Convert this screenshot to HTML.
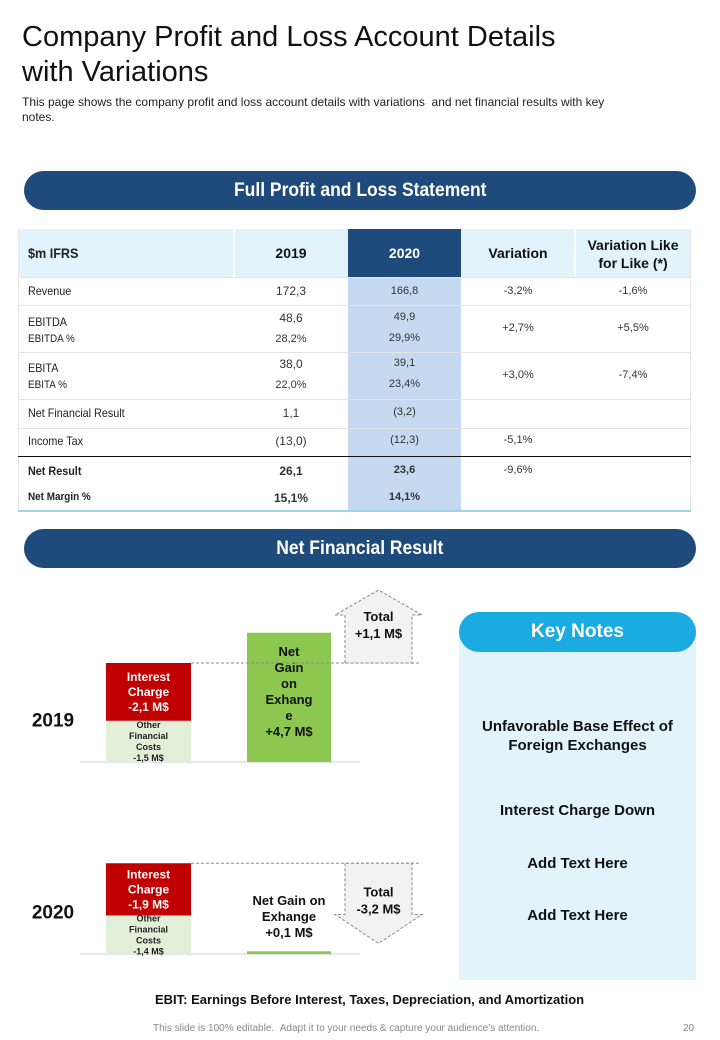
<!DOCTYPE html>
<html><head><meta charset="utf-8"><style>
body{margin:0;width:720px;height:1040px;background:#fff;font-family:"Liberation Sans",sans-serif;position:relative;overflow:hidden;color:#111}
.a{position:absolute}
.c{text-align:center}
.banner{position:absolute;left:24px;width:672px;height:39px;background:#1f4b7c;border-radius:20px;color:#fff;font-weight:bold;font-size:19px;text-align:center;line-height:39px}
.banner span{display:inline-block;transform:scaleX(.92)}
.t{position:absolute;font-size:12px;color:#222;transform:scaleX(.9);transform-origin:left center;white-space:nowrap}
.v{position:absolute;font-size:11px;color:#333;text-align:center;white-space:nowrap}
.hl{position:absolute;left:18px;width:673px;height:1px;background:#e4e4e4}
.b{font-weight:bold}
</style></head><body>
<div class="a" style="left:22px;top:20px;font-size:29px;line-height:35px;color:#111">Company Profit and Loss Account Details<br>with Variations</div>
<div class="a" style="left:22px;top:95px;font-size:12px;line-height:15px;color:#222;width:615px">This page shows the company profit and loss account details with variations &nbsp;and net financial results with key notes.</div>

<div class="banner" style="top:171px"><span>Full Profit and Loss Statement</span></div>

<div>
<div class="a" style="left:18px;top:229px;width:673px;height:48px;background:#e3f3fb"></div>
<div class="a" style="left:348px;top:277px;width:113px;height:234px;background:#c5daf0"></div>
<div class="a" style="left:348px;top:229px;width:113px;height:48px;background:#1f4b7c"></div>
<div class="a" style="left:233px;top:229px;width:2px;height:48px;background:#fff"></div>
<div class="a" style="left:574px;top:229px;width:2px;height:48px;background:#fff"></div>
<div class="a" style="left:18px;top:229px;width:1px;height:282px;background:#e4e4e4"></div>
<div class="a" style="left:690px;top:229px;width:1px;height:282px;background:#e4e4e4"></div>
<div class="t b" style="left:28px;top:245px;font-size:14px">$m IFRS</div>
<div class="v b" style="left:234px;width:114px;top:245px;font-size:14px;color:#111">2019</div>
<div class="v b" style="left:348px;width:113px;top:245px;font-size:14px;color:#fff">2020</div>
<div class="v b" style="left:461px;width:114px;top:245px;font-size:14px;color:#111">Variation</div>
<div class="v b" style="left:575px;width:116px;top:236px;font-size:14px;line-height:18px;color:#111">Variation Like<br>for Like (*)</div>

<div class="hl" style="top:277px"></div>
<div class="hl" style="top:305px"></div>
<div class="hl" style="top:352px"></div>
<div class="hl" style="top:399px"></div>
<div class="hl" style="top:428px"></div>
<div class="a" style="left:18px;top:456px;width:673px;height:1px;background:#111"></div>
<div class="a" style="left:18px;top:510px;width:673px;height:2px;background:#9cd3ea"></div>

<div class="t" style="left:28px;top:284px">Revenue</div>
<div class="v" style="left:234px;width:114px;top:284px;font-size:12px">172,3</div>
<div class="v" style="left:348px;width:113px;top:285px">166,8</div>
<div class="v" style="left:461px;width:114px;top:285px">-3,2%</div>
<div class="v" style="left:575px;width:116px;top:285px">-1,6%</div>

<div class="t" style="left:28px;top:315px">EBITDA</div>
<div class="t" style="left:28px;top:333px;font-size:11px">EBITDA %</div>
<div class="v" style="left:234px;width:114px;top:311px;font-size:12px">48,6</div>
<div class="v" style="left:234px;width:114px;top:333px">28,2%</div>
<div class="v" style="left:348px;width:113px;top:311px">49,9</div>
<div class="v" style="left:348px;width:113px;top:332px">29,9%</div>
<div class="v" style="left:461px;width:114px;top:322px">+2,7%</div>
<div class="v" style="left:575px;width:116px;top:322px">+5,5%</div>

<div class="t" style="left:28px;top:361px">EBITA</div>
<div class="t" style="left:28px;top:379px;font-size:11px">EBITA %</div>
<div class="v" style="left:234px;width:114px;top:357px;font-size:12px">38,0</div>
<div class="v" style="left:234px;width:114px;top:379px">22,0%</div>
<div class="v" style="left:348px;width:113px;top:357px">39,1</div>
<div class="v" style="left:348px;width:113px;top:378px">23,4%</div>
<div class="v" style="left:461px;width:114px;top:369px">+3,0%</div>
<div class="v" style="left:575px;width:116px;top:369px">-7,4%</div>

<div class="t" style="left:28px;top:406px">Net Financial Result</div>
<div class="v" style="left:234px;width:114px;top:406px;font-size:12px">1,1</div>
<div class="v" style="left:348px;width:113px;top:406px">(3,2)</div>

<div class="t" style="left:28px;top:434px">Income Tax</div>
<div class="v" style="left:234px;width:114px;top:434px;font-size:12px">(13,0)</div>
<div class="v" style="left:348px;width:113px;top:434px">(12,3)</div>
<div class="v" style="left:461px;width:114px;top:434px">-5,1%</div>

<div class="t b" style="left:28px;top:464px">Net Result</div>
<div class="t b" style="left:28px;top:491px;font-size:11px">Net Margin %</div>
<div class="v b" style="left:234px;width:114px;top:464px;font-size:12px">26,1</div>
<div class="v b" style="left:234px;width:114px;top:491px;font-size:12px">15,1%</div>
<div class="v b" style="left:348px;width:113px;top:464px">23,6</div>
<div class="v b" style="left:348px;width:113px;top:491px">14,1%</div>
<div class="v" style="left:461px;width:114px;top:464px">-9,6%</div>
</div>

<div class="banner" style="top:529px"><span>Net Financial Result</span></div>

<svg class="a" style="left:0;top:580px" width="450" height="400" id="chart"></svg>

<div class="a" style="left:459px;top:625px;width:237px;height:355px;background:#e3f3fb"></div>
<div class="a c" style="left:459px;top:612px;width:237px;height:40px;border-radius:20px;background:#1aabe0;color:#fff;font-weight:bold;font-size:19px;line-height:40px">Key Notes</div>
<div class="a c b" style="left:459px;top:717px;width:237px;font-size:15px;line-height:19px">Unfavorable Base Effect of<br>Foreign Exchanges</div>
<div class="a c b" style="left:459px;top:802px;width:237px;font-size:15px">Interest Charge Down</div>
<div class="a c b" style="left:459px;top:855px;width:237px;font-size:15px">Add Text Here</div>
<div class="a c b" style="left:459px;top:907px;width:237px;font-size:15px">Add Text Here</div>

<div class="a b" style="left:155px;top:992px;font-size:13px">EBIT: Earnings Before Interest, Taxes, Depreciation, and Amortization</div>
<div class="a" style="left:153px;top:1023px;font-size:10px;color:#888">This slide is 100% editable. &nbsp;Adapt it to your needs &amp; capture your audience’s attention.</div>
<div class="a" style="left:683px;top:1023px;font-size:10px;color:#888">20</div>

<script>
const years=["2019","2020"];
const interestCharge=[2.1,1.9];
const otherCosts=[1.5,1.4];
const netGain=[4.7,0.1];
const totals=[1.1,-3.2];
const interestLabels=["-2,1 M$","-1,9 M$"];
const otherLabels=["-1,5 M$","-1,4 M$"];
const gainLabels=["+4,7 M$","+0,1 M$"];
const totalLabels=["+1,1 M$","-3,2 M$"];
const NS="http://www.w3.org/2000/svg";
const svg=document.getElementById('chart');
const baselines=[182,374];
const scale=27.5;
const y=(b,v)=>b-v*scale;
function el(tag,attrs,txt){const e=document.createElementNS(NS,tag);for(const k in attrs)e.setAttribute(k,attrs[k]);if(txt!==undefined)e.textContent=txt;svg.appendChild(e);return e;}
function lines(x,yc,arr,size,fill,lh){const g=el('text',{x:x,'text-anchor':'middle','font-size':size,'font-weight':'bold',fill:fill,'font-family':'Liberation Sans, sans-serif'});
 const y0=yc-(arr.length-1)*lh/2+size*0.35;arr.forEach((s,i)=>{const t=document.createElementNS(NS,'tspan');t.setAttribute('x',x);t.setAttribute('y',y0+i*lh);t.textContent=s;g.appendChild(t);});return g;}
years.forEach((yr,i)=>{
 const b=baselines[i];
 const base=el('line',{x1:80,x2:360,y1:b,y2:b,stroke:'#ccc','stroke-width':1});
 
 const yl=lines(53,b-42,[yr],19,'#111',20);
 
 const oTop=y(b,otherCosts[i]);
 const o=el('rect',{x:106,y:oTop,width:85,height:b-oTop,fill:'#e2efd9'});
 
 const iTop=y(oTop,interestCharge[i]);
 const r=el('rect',{x:106,y:iTop,width:85,height:oTop-iTop,fill:'#c00000'});
 
 lines(148.5,(iTop+oTop)/2,["Interest","Charge",interestLabels[i]],12,'#fff',15);
 lines(148.5,(oTop+b)/2,["Other","Financial","Costs",otherLabels[i]],9,'#222',11);
 const gTop=y(b,netGain[i]);
 const g=el('rect',{x:247,y:gTop,width:84,height:b-gTop,fill:'#8cc850'});
 
 if(b-gTop>80) lines(289,(gTop+b)/2-6,["Net","Gain","on","Exhang","e",gainLabels[i]],13,'#111',16);
 else lines(289,gTop-35,["Net Gain on","Exhange",gainLabels[i]],13,'#111',16);
 const d=el('line',{x1:191,x2:420,y1:iTop,y2:iTop,stroke:'#888','stroke-dasharray':'3,2','stroke-width':1});
 
 const endY=iTop-totals[i]*scale*0.9;
 const up=totals[i]>0;
 let pts;
 if(up){const hy=iTop-48, tip=hy-25;pts=[[345,iTop],[345,hy],[335,hy],[378.5,tip],[422,hy],[412,hy],[412,iTop]];}
 else{const hy=endY-28, tip=hy+29;pts=[[345,iTop],[345,hy],[335,hy],[378.5,tip],[422,hy],[412,hy],[412,iTop]];}
 const p=el('polygon',{points:pts.map(q=>q.join(',')).join(' '),fill:'#f2f2f2',stroke:'#888','stroke-dasharray':'3,2','stroke-width':1});
 
 const tl=lines(378.5,up?iTop-38:iTop+37,["Total",totalLabels[i]],13,'#111',17);
 
});
</script>
</body></html>
